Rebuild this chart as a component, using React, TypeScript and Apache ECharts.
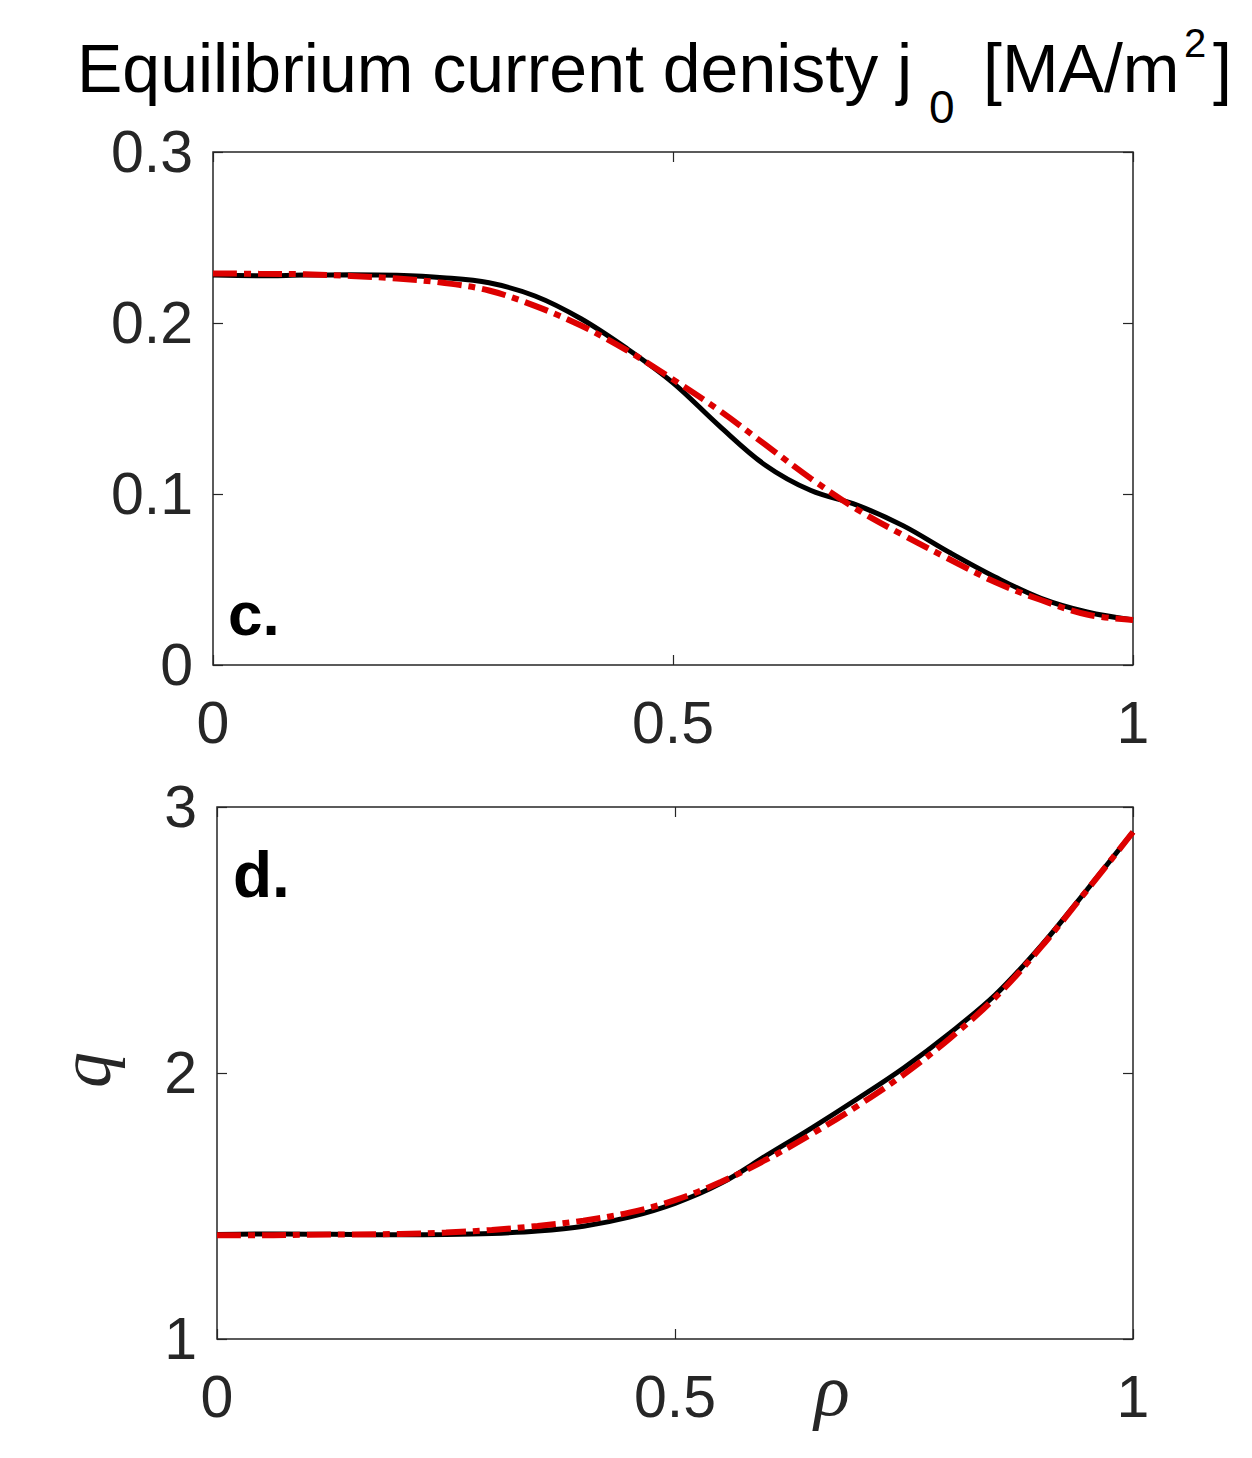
import React, { useEffect, useRef } from "react";
import * as echarts from "echarts";

const rho = [0, 0.05, 0.1, 0.15, 0.2, 0.25, 0.3, 0.35, 0.4, 0.45, 0.5, 0.55, 0.6, 0.65, 0.7, 0.75, 0.8, 0.85, 0.9, 0.95, 1.0];

const jBlack = [0.228, 0.2276, 0.228, 0.2282, 0.2279, 0.2265, 0.2235, 0.2158, 0.2025, 0.185, 0.165, 0.14, 0.117, 0.102, 0.0935, 0.0815, 0.066, 0.0515, 0.039, 0.031, 0.0263];
const jRed = [0.229, 0.2288, 0.2285, 0.2275, 0.226, 0.2235, 0.219, 0.21, 0.1985, 0.184, 0.167, 0.149, 0.129, 0.109, 0.091, 0.076, 0.062, 0.0485, 0.038, 0.0295, 0.0263];

const qBlack = [1.393, 1.395, 1.394, 1.393, 1.392, 1.393, 1.397, 1.406, 1.424, 1.458, 1.51, 1.585, 1.69, 1.795, 1.905, 2.02, 2.15, 2.295, 2.48, 2.69, 2.906];
const qRed = [1.39, 1.39, 1.392, 1.393, 1.395, 1.4, 1.41, 1.425, 1.445, 1.475, 1.522, 1.59, 1.675, 1.772, 1.878, 1.995, 2.13, 2.285, 2.475, 2.688, 2.906];

const xTicks = [0, 0.5, 1];
const jTicks = [0, 0.1, 0.2, 0.3];
const qTicks = [1, 2, 3];

const AX = "#262626";
const RED = "#dd0000";
const SANS = "Liberation Sans, Arial, Helvetica, sans-serif";
const SERIF = "Liberation Serif, Times New Roman, serif";

function pairs(xs: number[], ys: number[]) {
  return xs.map((x, i) => [x, ys[i]]);
}

function xAx(gridIndex: number, ticks: number[], position: "bottom" | "top", showLabel: boolean) {
  return {
    type: "value",
    gridIndex,
    position,
    min: ticks[0],
    max: ticks[ticks.length - 1],
    interval: ticks[1] - ticks[0],
    axisLine: { show: false, onZero: false },
    axisTick: { show: true, inside: true, length: 10, lineStyle: { color: AX, width: 1.2 } },
    splitLine: { show: false },
    axisLabel: {
      show: showLabel,
      margin: 28,
      color: AX,
      fontSize: 59,
      fontFamily: SANS,
      formatter: (v: number) => String(Math.round(v * 10) / 10),
    },
  };
}

function yAx(gridIndex: number, ticks: number[], position: "left" | "right", showLabel: boolean) {
  return {
    type: "value",
    gridIndex,
    position,
    min: ticks[0],
    max: ticks[ticks.length - 1],
    interval: ticks[1] - ticks[0],
    axisLine: { show: false, onZero: false },
    axisTick: { show: true, inside: true, length: 10, lineStyle: { color: AX, width: 1.2 } },
    splitLine: { show: false },
    axisLabel: {
      show: showLabel,
      margin: 20,
      color: AX,
      fontSize: 59,
      fontFamily: SANS,
      formatter: (v: number) => String(Math.round(v * 10) / 10),
    },
  };
}

function blackSeries(x: number, y: number, data: number[][]) {
  return {
    type: "line",
    xAxisIndex: x,
    yAxisIndex: y,
    data,
    smooth: 0.35,
    symbol: "none",
    lineStyle: { color: "#000000", width: 5 },
    z: 2,
  };
}

function redSeries(x: number, y: number, data: number[][]) {
  return {
    type: "line",
    xAxisIndex: x,
    yAxisIndex: y,
    data,
    smooth: 0.35,
    symbol: "none",
    lineStyle: { color: RED, width: 6, type: [24, 7, 7, 7], cap: "butt" },
    z: 3,
  };
}

export default function App() {
  const ref = useRef<HTMLDivElement>(null);
  useEffect(() => {
    if (!ref.current) return;
    const chart = echarts.init(ref.current, undefined, { renderer: "svg" });
    const gridBase = { show: true, borderColor: AX, borderWidth: 1.5, backgroundColor: "transparent" };
    chart.setOption({
      animation: false,
      backgroundColor: "#ffffff",
      grid: [
        { ...gridBase, left: 213, top: 152, width: 920, height: 513 },
        { ...gridBase, left: 217, top: 807, width: 916, height: 532 },
      ],
      xAxis: [
        xAx(0, xTicks, "bottom", true),
        xAx(0, xTicks, "top", false),
        xAx(1, xTicks, "bottom", true),
        xAx(1, xTicks, "top", false),
      ],
      yAxis: [
        yAx(0, jTicks, "left", true),
        yAx(0, jTicks, "right", false),
        yAx(1, qTicks, "left", true),
        yAx(1, qTicks, "right", false),
      ],
      series: [
        blackSeries(0, 0, pairs(rho, jBlack)),
        redSeries(0, 0, pairs(rho, jRed)),
        blackSeries(2, 2, pairs(rho, qBlack)),
        redSeries(2, 2, pairs(rho, qRed)),
      ],
      graphic: [
        {
          type: "text",
          x: 77,
          y: 67.5,
          style: { text: "Equilibrium current denisty j", fontSize: 68, fontFamily: SANS, fill: "#000", align: "left", verticalAlign: "middle" },
        },
        {
          type: "text",
          x: 929,
          y: 107,
          style: { text: "0", fontSize: 46, fontFamily: SANS, fill: "#000", align: "left", verticalAlign: "middle" },
        },
        {
          type: "text",
          x: 983,
          y: 67.5,
          style: { text: "[MA/m", fontSize: 68, fontFamily: SANS, fill: "#000", align: "left", verticalAlign: "middle" },
        },
        {
          type: "text",
          x: 1184,
          y: 43,
          style: { text: "2", fontSize: 40, fontFamily: SANS, fill: "#000", align: "left", verticalAlign: "middle" },
        },
        {
          type: "text",
          x: 1213,
          y: 67.5,
          style: { text: "]", fontSize: 68, fontFamily: SANS, fill: "#000", align: "left", verticalAlign: "middle" },
        },
        {
          type: "text",
          x: 228,
          y: 613,
          style: { text: "c.", fontSize: 62, fontWeight: "bold", fontFamily: SANS, fill: "#000", align: "left", verticalAlign: "middle" },
        },
        {
          type: "text",
          x: 233,
          y: 875,
          style: { text: "d.", fontSize: 64, fontWeight: "bold", fontFamily: SANS, fill: "#000", align: "left", verticalAlign: "middle" },
        },
        {
          type: "text",
          x: 86,
          y: 1070,
          rotation: Math.PI / 2,
          style: { text: "q", fontSize: 72, fontStyle: "italic", fontFamily: SERIF, fill: AX, align: "center", verticalAlign: "middle" },
        },
        {
          type: "text",
          x: 832,
          y: 1390,
          style: { text: "ρ", fontSize: 74, fontStyle: "italic", fontFamily: SERIF, fill: AX, align: "center", verticalAlign: "middle" },
        },
      ],
    });
    return () => chart.dispose();
  }, []);
  return (
    <div
      ref={ref}
      style={{ position: "absolute", left: 0, top: 0, width: 1252, height: 1458, background: "#fff" }}
    />
  );
}
